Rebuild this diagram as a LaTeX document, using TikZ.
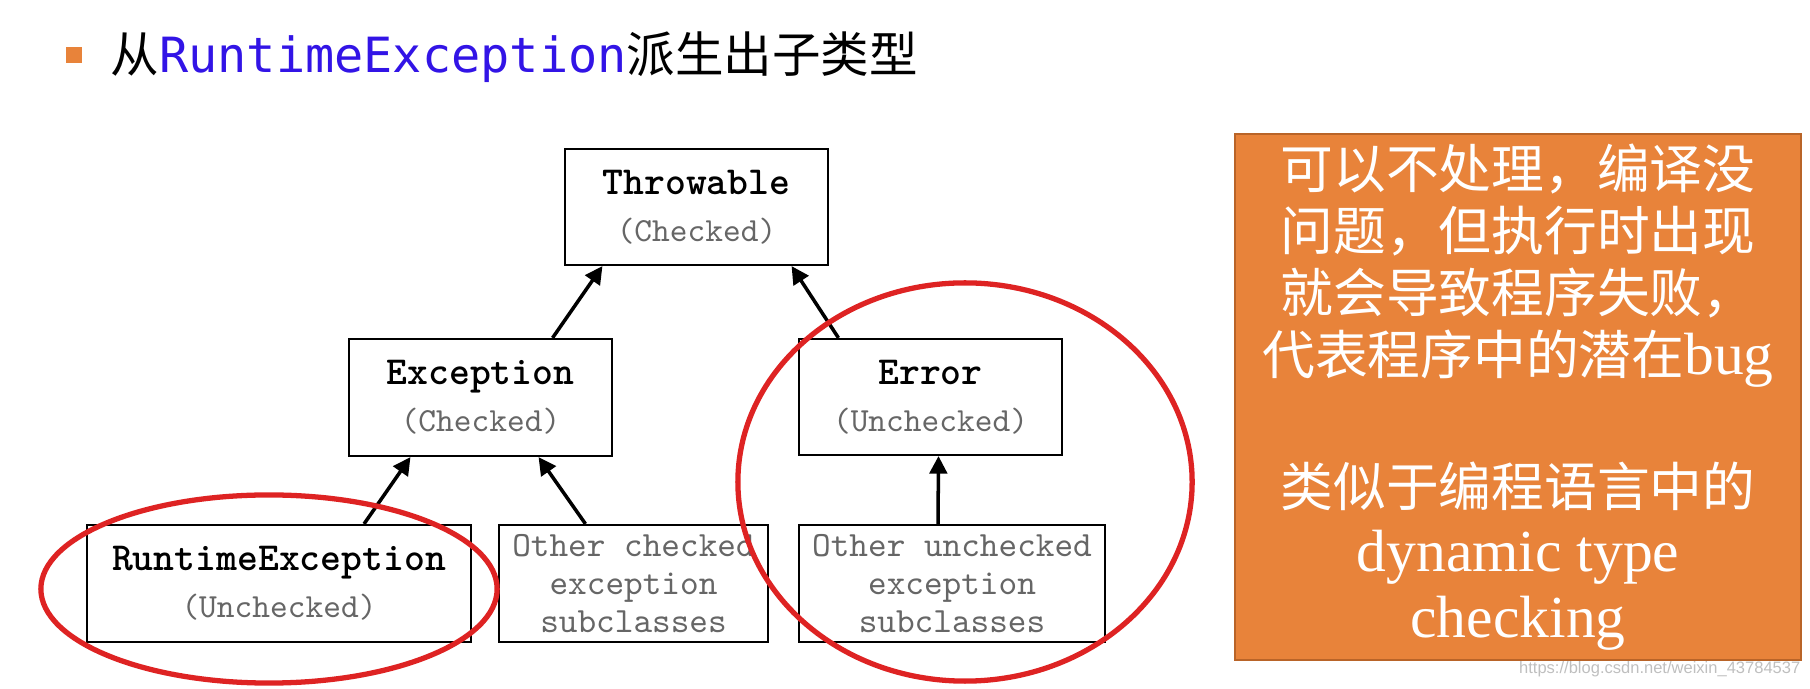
\documentclass[tikz,border=0pt]{standalone}
\usepackage{fontspec}
\usetikzlibrary{arrows.meta}
\setmainfont{Liberation Serif}
\newfontfamily\cjk{Noto Sans CJK SC}
\newfontfamily\titlemono{DejaVu Sans Mono}
\newfontfamily\noteserif[Scale=1.13]{Liberation Serif}
\newfontfamily\wmark{Liberation Sans}

\definecolor{bulletorange}{RGB}{232,131,58}
\definecolor{noteorange}{RGB}{232,131,58}
\definecolor{noteedge}{RGB}{185,100,40}
\definecolor{titleblue}{RGB}{50,20,230}
\definecolor{ringred}{RGB}{222,35,35}
\colorlet{subgray}{black!60}

\tikzset{
  clsbox/.style={draw=black, line width=0.6pt, fill=white, inner sep=0,
                 align=center, font=\ttfamily\fontsize{11.3}{12.5}\selectfont},
  leafbox/.style={clsbox, text=subgray,
                  font=\ttfamily\fontsize{10.1}{10.8}\selectfont},
  notebox/.style={draw=noteedge, line width=0.7pt, fill=noteorange, text=white,
                  inner sep=0, align=center,
                  font=\noteserif\fontsize{15}{17.6}\selectfont},
  isa arrow/.style={-{Triangle[length=5pt,width=5pt]}, line width=1pt},
  ring/.style={draw=ringred, line width=1.5pt},
}
\newcommand{\subtag}[1]{{\color{subgray}\fontsize{9.6}{10}\selectfont #1}}

\begin{document}
\begin{tikzpicture}[x=0.01cm, y=-0.01cm]
    % page = 1810 x 689 px, one px = 0.01cm, y runs downwards
    \useasboundingbox (0,0) rectangle (1810,689);

    % === Heading ===
    \node[fill=bulletorange, minimum size=0.16cm, inner sep=0] (bullet) at (74,55) {};
    \node[anchor=west, inner sep=0, font=\fontsize{13.8}{16}\selectfont] (title) at (110,57)
      {{\cjk 从}{\titlemono\color{titleblue}RuntimeException}{\cjk 派生出子类型}};

    % === Class hierarchy ===
    \node[clsbox, minimum width=2.63cm, minimum height=1.16cm] (throw) at (696.5,207)
      {\textbf{Throwable}\\[1pt]\subtag{(Checked)}};
    \node[clsbox, minimum width=2.63cm, minimum height=1.17cm] (exc) at (480.5,397.5)
      {\textbf{Exception}\\[1pt]\subtag{(Checked)}};
    \node[clsbox, minimum width=2.63cm, minimum height=1.16cm] (err) at (930.5,397)
      {\textbf{Error}\\[1pt]\subtag{(Unchecked)}};
    \node[clsbox, minimum width=3.84cm, minimum height=1.17cm] (rte) at (279,583.5)
      {\textbf{RuntimeException}\\[1pt]\subtag{(Unchecked)}};
    \node[leafbox, minimum width=2.69cm, minimum height=1.17cm] (ochk) at (633.5,583.5)
      {Other checked\\exception\\subclasses};
    \node[leafbox, minimum width=3.06cm, minimum height=1.17cm] (ounchk) at (952,583.5)
      {Other unchecked\\exception\\subclasses};

    % arrows point from subclass up to superclass
    \draw[isa arrow] ([xshift=0.72cm]exc.north) -- ([xshift=-0.94cm]throw.south);
    \draw[isa arrow] ([xshift=-0.92cm]err.north) -- ([xshift=0.95cm]throw.south);
    \draw[isa arrow] ([xshift=0.85cm]rte.north) -- ([xshift=-0.70cm]exc.south);
    \draw[isa arrow] ([xshift=-0.48cm]ochk.north) -- ([xshift=0.58cm]exc.south);
    \draw[isa arrow] ([xshift=-0.14cm]ounchk.north) -- ([xshift=0.08cm]err.south);

    % red rings round the unchecked branches
    \draw[ring] (269,589) ellipse [x radius=2.28cm, y radius=0.94cm];
    \draw[ring] (965,482) ellipse [x radius=2.27cm, y radius=1.99cm];

    % === Note on the right ===
    \node[notebox, minimum width=5.66cm, minimum height=5.26cm] (note) at (1518,397)
      {{\cjk 可以不处理，编译没}\\
       {\cjk 问题，但执行时出现}\\
       {\cjk 就会导致程序失败，}\\
       {\cjk 代表程序中的潜在}bug\\[20pt]
       {\cjk 类似于编程语言中的}\\[1pt]
       dynamic type\\[1pt]
       checking};

    \node[anchor=east, inner sep=0, text=black!25, font=\wmark\fontsize{4.7}{5}\selectfont]
      (wmark) at (1801,669) {https://blog.csdn.net/weixin\_43784537};
\end{tikzpicture}
\end{document}
